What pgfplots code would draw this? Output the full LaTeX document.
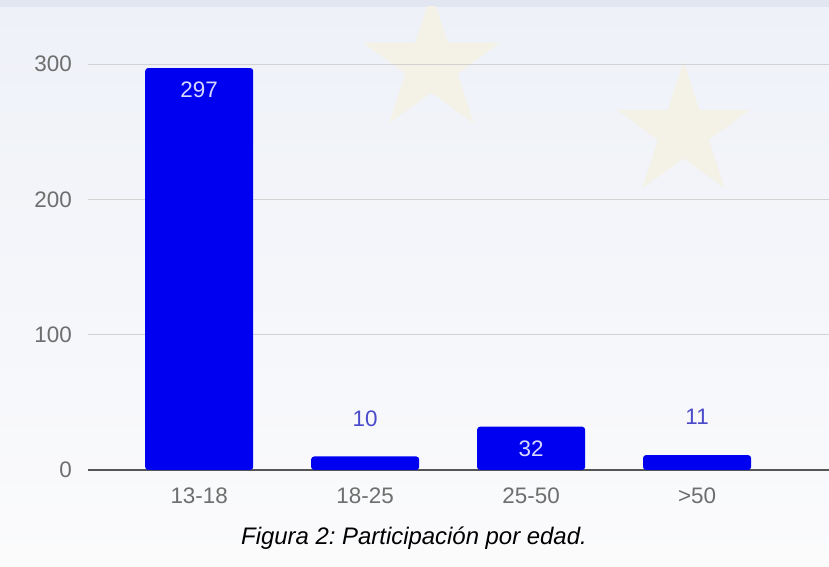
\documentclass[border=0pt]{standalone}
\usepackage{pgfplots}
\pgfplotsset{compat=1.18}
\usepackage{fontspec}
\setmainfont{Liberation Sans}
\usetikzlibrary{shapes.geometric}
\definecolor{barblue}{HTML}{0000F0}
\definecolor{ticklab}{HTML}{6E6E6E}
\definecolor{gridc}{HTML}{D2D2D2}
\definecolor{zeroline}{HTML}{555555}
\definecolor{inlab}{HTML}{D8D8FF}
\definecolor{outlab}{HTML}{4A4ACB}
\definecolor{bgtop}{HTML}{EEF1F8}
\definecolor{bgbot}{HTML}{FBFBFC}
\definecolor{band}{HTML}{E1E6F1}
\definecolor{staryellow}{HTML}{F4F2E6}
\frenchspacing
\begin{document}
\begin{tikzpicture}[x=1bp,y=1bp]
\useasboundingbox (0,0) rectangle (829,567);
\shade[top color=bgtop, bottom color=bgbot] (0,0) rectangle (829,567);
\fill[band] (0,560) rectangle (829,567);
\begin{scope}
\clip (0,0) rectangle (829,560);
\node[star, star points=5, star point ratio=2.618, minimum size=144bp, inner sep=0pt, fill=staryellow, draw=none] at (431.5,502) {};
\node[star, star points=5, star point ratio=2.618, minimum size=140bp, inner sep=0pt, fill=staryellow, draw=none] at (683.5,435.4) {};
\end{scope}
\begin{axis}[
  at={(88bp,97bp)}, anchor=south west,
  scale only axis, width=741bp, height=406bp,
  xmin=-0.67, xmax=3.795, ymin=0, ymax=300,
  clip=false,
  /pgf/number format/assume math mode=true,
  axis line style={draw=none},
  major tick length=0pt,
  ytick={100,200,300},
  extra y ticks={0},
  extra y tick style={grid style={zeroline, line width=1.2bp}},
  ymajorgrids,
  grid style={gridc, line width=0.8bp},
  xtick={0,1,2,3},
  xticklabels={13-18,18-25,25-50,{>50}},
  tick label style={font=\fontsize{22.5}{27}\selectfont, text=ticklab},
  yticklabel style={inner sep=0pt, anchor=east, xshift=-16bp},
  xticklabel style={inner sep=0pt, anchor=north, yshift=-18bp},
]
\addplot[ybar, bar width=108bp, fill=barblue, draw=none, rounded corners=3bp]
  coordinates {(0,297) (1,10) (2,32) (3,11)};
\addplot[draw=none, mark=none, nodes near coords,
  nodes near coords style={anchor=north, inner sep=0pt, yshift=-14bp,
    font=\fontsize{22.5}{27}\selectfont, text=inlab}]
  coordinates {(0,297) (2,32)};
\addplot[draw=none, mark=none, nodes near coords,
  nodes near coords style={anchor=south, inner sep=0pt, yshift=30bp,
    font=\fontsize{22.5}{27}\selectfont, text=outlab}]
  coordinates {(1,10) (3,11)};
\end{axis}
\node[font=\fontsize{24}{28}\selectfont\itshape, text=black] at (414,29) {Figura 2: Participación por edad.};
\end{tikzpicture}
\end{document}
